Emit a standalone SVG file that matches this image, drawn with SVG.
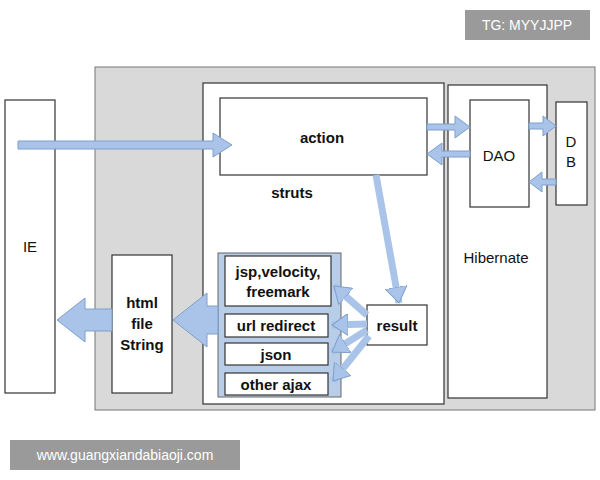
<svg xmlns="http://www.w3.org/2000/svg" width="600" height="480" viewBox="0 0 600 480">
<style>
.box{fill:#fff;stroke:#333;stroke-width:1.2}
.t{font-family:"Liberation Sans",Arial,sans-serif;font-size:15px;font-weight:bold;fill:#111;text-anchor:middle}
.arr{fill:#a9c4e8;stroke:#7d9fcc;stroke-width:1}
.ln{stroke:#a9c4e8;stroke-width:7;fill:none;marker-end:url(#ah)}
</style>
<defs>
<marker id="ah" markerUnits="userSpaceOnUse" markerWidth="20" markerHeight="22" refX="16" refY="11" orient="auto">
<polygon points="0,0 16,11 0,22" fill="#a9c4e8" stroke="#7d9fcc"/>
</marker>
</defs>
<rect width="600" height="480" fill="#fff"/>
<rect x="95" y="67" width="500" height="343" fill="#d9d9d9" stroke="#777"/>
<g id="IE"><rect class="box" x="5" y="100" width="50" height="293"/><text class="t" x="30" y="252" style="font-weight:normal">IE</text></g>
<g id="struts"><rect class="box" x="203" y="83" width="241" height="321"/><text class="t" x="292" y="198">struts</text></g>
<g id="action"><rect class="box" x="220" y="98" width="207" height="77"/><text class="t" x="322" y="143">action</text></g>
<g id="hibernate"><rect class="box" x="448" y="85" width="99" height="313"/><text class="t" x="496" y="263" style="font-weight:normal">Hibernate</text></g>
<g id="dao"><rect class="box" x="470" y="100" width="59" height="107"/><text class="t" x="499" y="161" style="font-weight:normal">DAO</text></g>
<g id="db"><rect class="box" x="556" y="102" width="31" height="103"/><text class="t" x="571" y="147" style="font-weight:normal">D</text><text class="t" x="571" y="167" style="font-weight:normal">B</text></g>
<g id="html"><rect class="box" x="112" y="255" width="60" height="138"/><text class="t" x="142" y="308">html</text><text class="t" x="142" y="329">file</text><text class="t" x="142" y="350">String</text></g>
<g id="views">
<rect x="218" y="253" width="123" height="144" fill="#b7cde8" stroke="#666"/>
<rect class="box" x="225" y="256" width="106" height="50"/><text class="t" x="278" y="277">jsp,velocity,</text><text class="t" x="278" y="297">freemark</text>
<rect class="box" x="225" y="314" width="103" height="23"/><text class="t" x="276" y="331">url redirect</text>
<rect class="box" x="225" y="343" width="103" height="22"/><text class="t" x="276" y="360">json</text>
<rect class="box" x="225" y="373" width="103" height="22"/><text class="t" x="276" y="390">other ajax</text>
</g>
<g id="result"><rect class="box" x="367" y="305" width="60" height="40"/><text class="t" x="397" y="331">result</text></g>
<g id="connectors">
<polygon class="arr" points="18,141 213,141 213,133 232,145 213,157 213,149 18,149"/>
<polygon class="arr" points="427,124 455,124 455,116 470,127 455,138 455,130 427,130"/>
<polygon class="arr" points="470,151 442,151 442,143 427,154 442,165 442,157 470,157"/>
<polygon class="arr" points="529,123 543,123 543,116 556,126 543,136 543,129 529,129"/>
<polygon class="arr" points="556,179 542,179 542,172 529,182 542,192 542,185 556,185"/>
<polygon class="arr" points="218,306 207,306 207,293 173,320 207,347 207,334 218,334"/>
<polygon class="arr" points="112,309 85,309 85,298 57,320 85,342 85,331 112,331"/>
<line class="ln" x1="376" y1="175" x2="399" y2="303"/>
<line class="ln" x1="367" y1="315" x2="334" y2="286"/>
<line class="ln" x1="367" y1="324" x2="332" y2="325"/>
<line class="ln" x1="367" y1="330" x2="332" y2="352"/>
<line class="ln" x1="369" y1="336" x2="333" y2="381"/>
</g>
<rect x="465" y="10" width="125" height="30" fill="#9a9a9a"/>
<text x="527" y="30" style="font-family:'Liberation Sans',sans-serif;font-size:14px;fill:#fff;text-anchor:middle">TG: MYYJJPP</text>
<rect x="10" y="440" width="230" height="30" fill="#9a9a9a"/>
<text x="125" y="460" style="font-family:'Liberation Sans',sans-serif;font-size:14px;fill:#fff;text-anchor:middle">www.guangxiandabiaoji.com</text>
</svg>
